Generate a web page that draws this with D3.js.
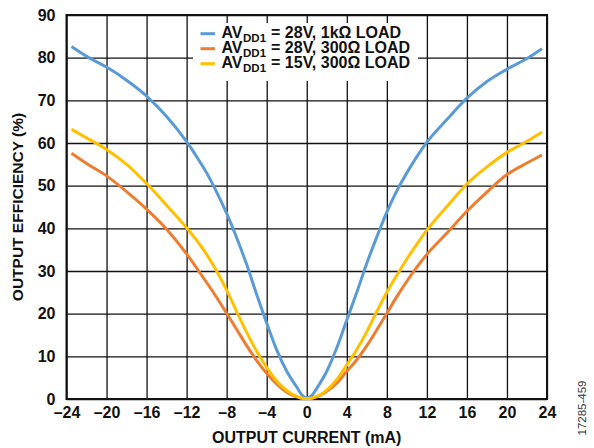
<!DOCTYPE html>
<html>
<head>
<meta charset="utf-8">
<script src="https://cdn.jsdelivr.net/npm/d3@7"></script>
<style>
  html, body { margin: 0; padding: 0; background: #fff; }
  svg { display: block; }
  text { font-family: "Liberation Sans", Arial, Helvetica, sans-serif; }
</style>
</head>
<body>
<svg id="chart" width="594" height="448"></svg>
<script>
// ---- data ----
const currentMA = [-23.5,-22,-20,-18,-16,-14,-12,-11,-10,-9,-8,-7,-6,-5,-4,-3,-2,-1,-0.5,0,0.5,1,2,3,4,5,6,7,8,9,10,11,12,14,16,18,20,22,23.5];
const eff28V1k  = [82.6,80.3,77.8,74.7,71.0,66.2,60.3,56.8,53.0,48.5,43.5,37.8,31.5,24.5,17.8,11.5,6.5,2.8,1.0,0.3,0.8,2.5,6.5,12.0,18.5,25.0,31.8,38.0,43.8,48.8,53.0,56.8,60.2,65.5,70.5,74.4,77.3,79.8,82.1];
const eff28V300 = [57.6,55.2,52.3,48.6,44.5,39.8,34.0,30.7,27.3,23.8,20.1,16.3,12.5,9.0,6.0,3.5,1.6,0.5,0.2,0.1,0.2,0.5,1.8,3.7,6.5,9.2,12.5,16.2,20.1,24.0,27.6,30.9,33.9,38.9,44.0,48.5,52.6,55.3,57.2];
const eff15V300 = [63.2,61.2,58.5,55.0,50.5,45.4,40.1,37.2,33.9,30.0,25.5,20.5,15.6,11.2,7.4,4.2,2.0,0.6,0.2,0.1,0.2,0.6,2.1,4.6,8.0,11.6,15.8,20.5,25.0,29.0,32.8,36.3,39.6,45.1,50.4,54.4,57.8,60.4,62.6];
const seriesPrefix = "AV";
const seriesSub = "DD1";
const seriesLabels = ["= 28V, 1k\u03A9 LOAD", "= 28V, 300\u03A9 LOAD", "= 15V, 300\u03A9 LOAD"];
const xTickValues = [-24,-20,-16,-12,-8,-4,0,4,8,12,16,20,24];
const yTickValues = [0,10,20,30,40,50,60,70,80,90];

// ---- styles ----
const seriesColors = ["#5B9BD5", "#ED7D31", "#FFC000"];
const seriesValues = [eff28V1k, eff28V300, eff15V300];

const svg = d3.select("#chart");
svg.append("rect").attr("width", 594).attr("height", 448).attr("fill", "#fff");

const L = 66.5, R = 547, T = 15, B = 399;
const x = d3.scaleLinear().domain([-24, 24]).range([L, R]);
const y = d3.scaleLinear().domain([0, 90]).range([B, T]);

const fmt = d => d < 0 ? "\u2013" + Math.abs(d) : String(d);

// grid + x axis
const gx = svg.append("g").attr("transform", `translate(0,${B})`)
  .call(d3.axisBottom(x).tickValues(xTickValues).tickSize(-(B - T)).tickPadding(7.5).tickFormat(fmt));
gx.select(".domain").remove();
gx.selectAll(".tick line").attr("stroke", "#111").attr("stroke-width", 1.3);
gx.selectAll(".tick text").attr("font-size", 16).attr("font-weight", "bold").attr("fill", "#111")
  .style("font-family", '"Liberation Sans", Arial, sans-serif');

// grid + y axis
const gy = svg.append("g").attr("transform", `translate(${L},0)`)
  .call(d3.axisLeft(y).tickValues(yTickValues).tickSize(-(R - L)).tickPadding(11));
gy.select(".domain").remove();
gy.selectAll(".tick line").attr("stroke", "#111").attr("stroke-width", 1.3);
gy.selectAll(".tick text").attr("font-size", 16).attr("font-weight", "bold").attr("fill", "#111")
  .style("font-family", '"Liberation Sans", Arial, sans-serif');

// frame
svg.append("rect").attr("x", L).attr("y", T).attr("width", R - L).attr("height", B - T)
  .attr("fill", "none").attr("stroke", "#111").attr("stroke-width", 2);

// legend background (covers grid)
svg.append("rect").attr("x", 193).attr("y", 23).attr("width", 225).attr("height", 58).attr("fill", "#fff");

// lines
const line = d3.line().x(d => x(d[0])).y(d => y(d[1])).curve(d3.curveMonotoneX);
seriesValues.forEach((vals, i) => {
  svg.append("path")
    .datum(currentMA.map((c, j) => [c, vals[j]]))
    .attr("fill", "none")
    .attr("stroke", seriesColors[i])
    .attr("stroke-width", 3)
    .attr("stroke-linejoin", "round")
    .attr("d", line);
});

// legend
seriesLabels.forEach((lab, i) => {
  const by = 38 + i * 15;
  svg.append("line").attr("x1", 200.5).attr("x2", 215).attr("y1", by - 4.3).attr("y2", by - 4.3)
    .attr("stroke", seriesColors[i]).attr("stroke-width", 3);
  const t1 = svg.append("text").attr("x", 221.5).attr("y", by)
    .attr("font-size", 16).attr("font-weight", "bold").attr("fill", "#111").text(seriesPrefix);
  const w1 = t1.node().getComputedTextLength();
  const t2 = svg.append("text").attr("x", 221.5 + w1 + 0.5).attr("y", by + 4)
    .attr("font-size", 11.5).attr("font-weight", "bold").attr("fill", "#111").text(seriesSub);
  const w2 = t2.node().getComputedTextLength();
  svg.append("text").attr("x", 221.5 + w1 + 0.5 + w2 + 5).attr("y", by)
    .attr("font-size", 16).attr("font-weight", "bold").attr("fill", "#111").text(lab);
});

// axis titles
svg.append("text").attr("x", (L + R) / 2).attr("y", 443).attr("text-anchor", "middle")
  .attr("font-size", 16).attr("font-weight", "bold").attr("fill", "#111").text("OUTPUT CURRENT (mA)");
svg.append("text").attr("transform", `translate(22.5,${(T + B) / 2}) rotate(-90)`).attr("text-anchor", "middle")
  .attr("font-size", 15.5).attr("font-weight", "bold").attr("fill", "#111").text("OUTPUT EFFICIENCY (%)");

// figure code
svg.append("text").attr("transform", "translate(586,408) rotate(-90)").attr("text-anchor", "middle")
  .attr("font-size", 11.5).attr("fill", "#333").text("17285-459");
</script>
</body>
</html>
